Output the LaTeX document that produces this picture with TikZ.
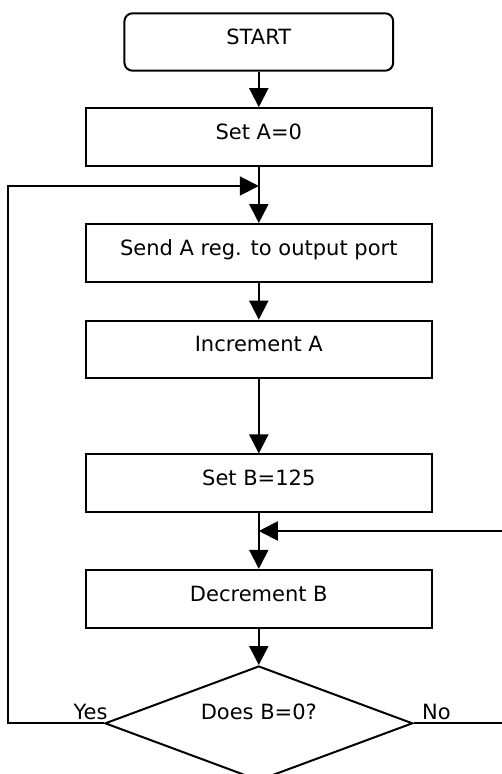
\documentclass[tikz,border=0pt]{standalone}
\usepackage{fontspec}
\setmainfont{DejaVu Sans}
\usetikzlibrary{arrows.meta,shapes.geometric}
\begin{document}
\begin{tikzpicture}[x=1pt,y=-1pt,
  every node/.style={font=\fontsize{21}{25}\selectfont},
  proc/.style={draw, line width=2pt, minimum width=345.7pt, minimum height=57.7pt,
    inner sep=0pt, text height=15.7pt, text depth=11pt},
  startbox/.style={proc, rounded corners=8pt, minimum width=268.7pt, minimum height=57.4pt},
  decision/.style={diamond, aspect=2.685, draw, line width=2pt, minimum width=307.7pt, minimum height=114.6pt,
    inner sep=0pt, text height=15.7pt, text depth=24pt},
  conn/.style={line width=2pt, -{Triangle[length=19pt,width=19pt]}},
  lbl/.style={anchor=base, inner sep=0pt}]
\useasboundingbox (0,0) rectangle (502,774);
\clip (0,0) rectangle (502,774);
\node[startbox] (start) at (258.8,42) {START};
\node[proc] (seta) at (258.8,137) {Set A=0};
\node[proc] (senda) at (258.8,252.9) {Send A reg. to output port};
\node[proc] (inca) at (258.8,349.5) {Increment A};
\node[proc] (setb) at (258.8,483.3) {Set B=125};
\node[proc] (decb) at (258.8,598.7) {Decrement B};
\node[decision] (dia) at (258.8,723.3) {Does B=0?};
\node[lbl] (yes) at (90.5,719) {Yes};
\node[lbl] (no) at (436.5,719) {No};
\coordinate (yb) at (8.3,723.3);
\coordinate (yt) at (8.3,186);
\coordinate (j1) at (258.8,186);
\coordinate (nb) at (515,723.3);
\coordinate (nt) at (515,531);
\coordinate (j2) at (258.8,531);
\draw[conn] (start) -- (seta);
\draw[conn] (seta) -- (senda);
\draw[conn] (senda) -- (inca);
\draw[conn] (inca) -- (setb);
\draw[conn] (setb) -- (decb);
\draw[conn] (decb) -- (dia);
\draw[conn] (dia.west) -- (yb) -- (yt) -- (j1);
\draw[conn] (dia.east) -- (nb) -- (nt) -- (j2);
\end{tikzpicture}
\end{document}
